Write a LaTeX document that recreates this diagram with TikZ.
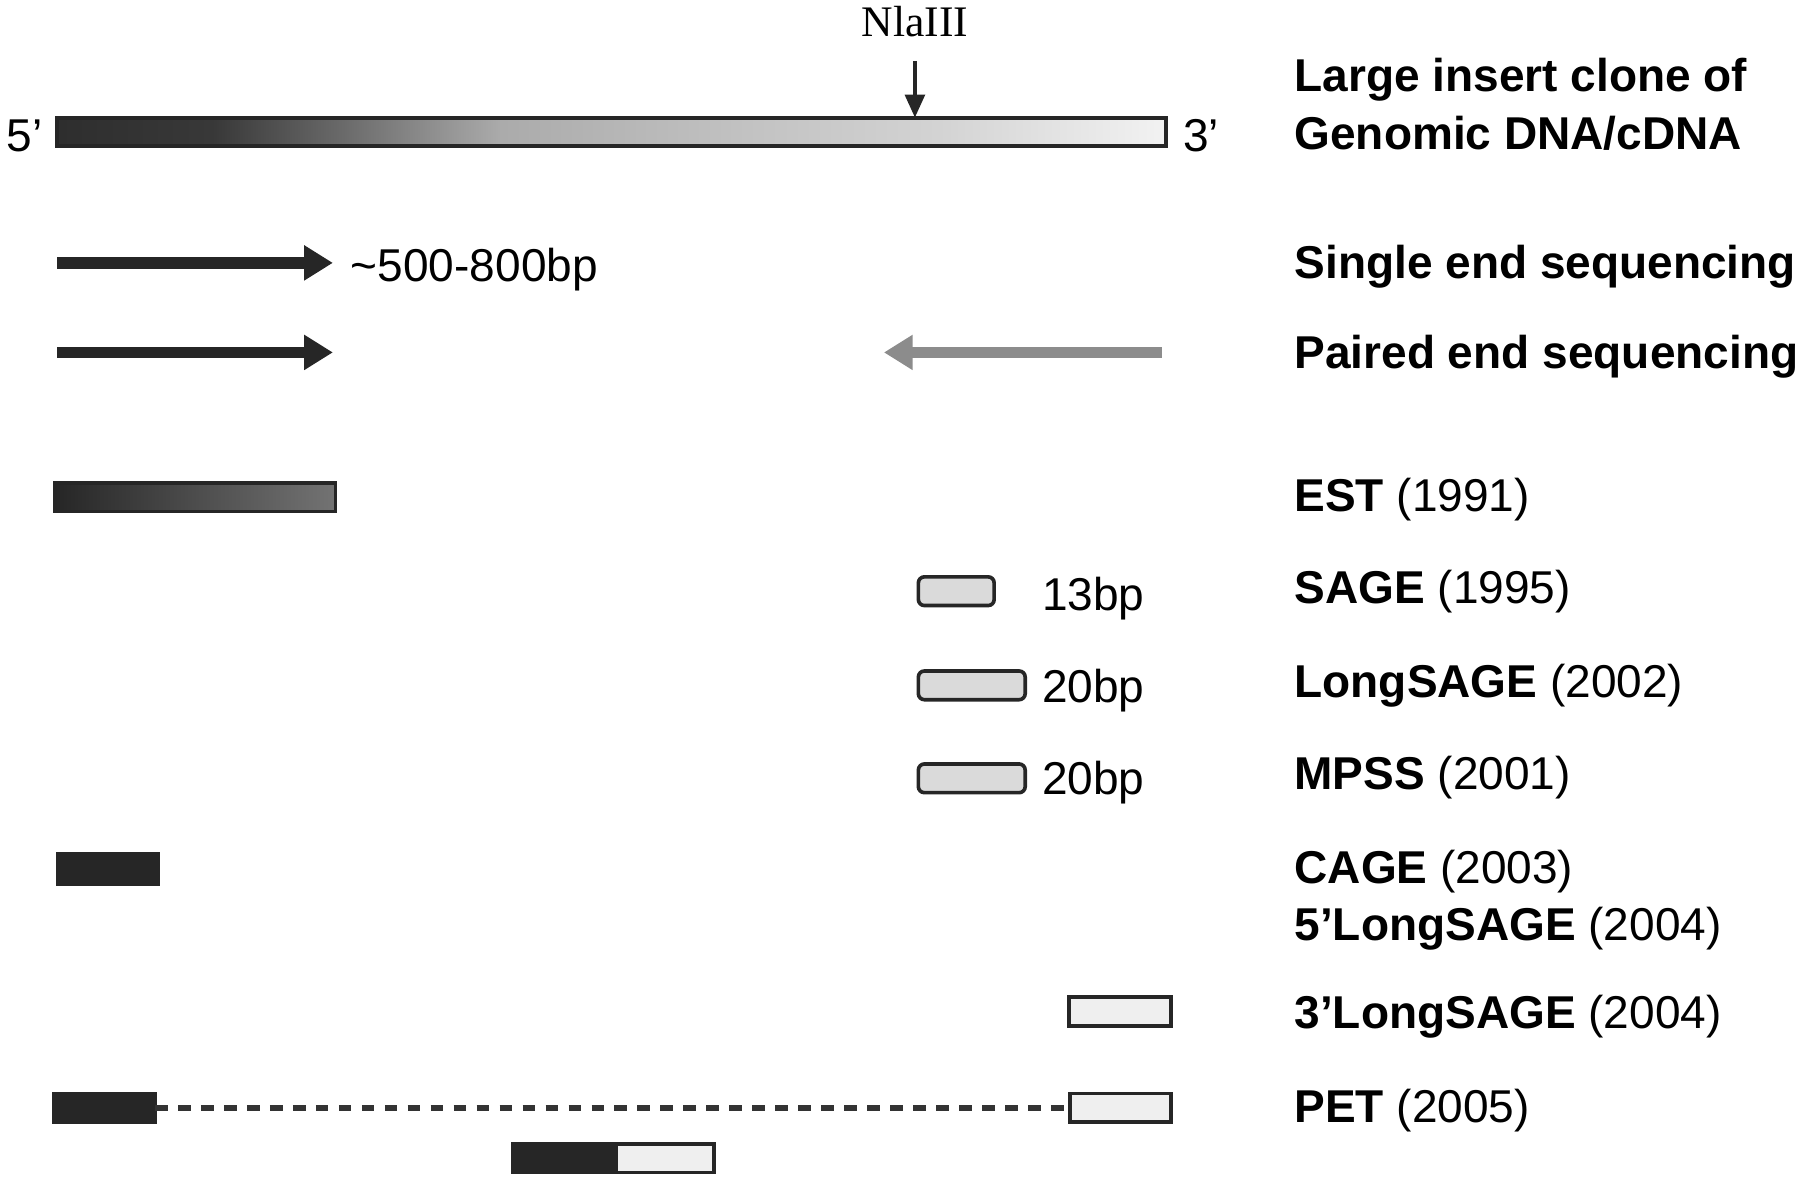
\documentclass[tikz,border=0pt]{standalone}
\usepackage{fontspec}
\setmainfont{Liberation Sans}
\newfontfamily\serifnla{Liberation Serif}
\usetikzlibrary{arrows.meta}

\definecolor{tagdark}{HTML}{262626}
\definecolor{taglight}{HTML}{EFEFEF}
\definecolor{sagefill}{HTML}{DADADA}

% shading of the clone, dark at 5' and pale at 3' (TikZ fits 25bp..75bp to the node)
\pgfdeclarehorizontalshading{clonegrad}{100bp}{color(0bp)=(black!82); color(25bp)=(black!82);
  color(32bp)=(black!78); color(38bp)=(black!58); color(45bp)=(black!33);
  color(56bp)=(black!24); color(65bp)=(black!17); color(75bp)=(black!5); color(100bp)=(black!5)}

\tikzset{
  lbl/.style={anchor=base west, inner sep=0pt, font=\fontsize{11.4}{13}\selectfont},
  seg/.style={draw=black!85, line width=0.9pt, inner sep=0pt, outer sep=0pt,
    minimum height=0.25cm, anchor=west},
  readarrow/.style={line width=0.1cm, -{Triangle[length=0.25cm,width=0.29cm]}},
}

\begin{document}
\begin{tikzpicture}[x=0.01cm, y=-0.01cm]

    % Frame of the figure
    \useasboundingbox (0,0) rectangle (1568,1033);

    % The large insert clone with its NlaIII site
    \node[seg, minimum width=9.65cm, shading=clonegrad, line width=1pt] (clone) at (50,115) {};
    \node[lbl, anchor=base, font=\serifnla\fontsize{10.8}{12}\selectfont] (nla) at (797,32) {NlaIII};
    \coordinate (cut) at (797,53);
    \draw[line width=1pt, tagdark, -{Triangle[length=0.2cm,width=0.17cm]}] (cut) -- (cut |- clone.north);
    \node[lbl] (five) at (5,132) {5’};
    \node[lbl] (three) at (1030,132) {3’};

    % Sequencing reads
    \coordinate (s1) at (50,229);
    \coordinate (s2) at (290,229);
    \draw[readarrow, tagdark] (s1) -- (s2);
    \node[lbl] (readlen) at (305,245) {\textasciitilde500-800bp};

    \coordinate (p1) at (50,307);
    \coordinate (p2) at (290,307);
    \coordinate (p3) at (1012,307);
    \coordinate (p4) at (770,307);
    \draw[readarrow, tagdark] (p1) -- (p2);
    \draw[readarrow, black!45] (p3) -- (p4);

    % Tags cut from the clone
    \node[seg, minimum width=2.44cm, left color=black!85, right color=black!55] (est) at (48,433) {};
    \node[seg, fill=sagefill, rounded corners=1.5pt, minimum width=0.66cm] (sage) at (800,515) {};
    \node[seg, fill=sagefill, rounded corners=1.5pt, minimum width=0.93cm] (lsage) at (800,597) {};
    \node[seg, fill=sagefill, rounded corners=1.5pt, minimum width=0.93cm] (mpss) at (800,678) {};
    \node[lbl] (bp13) at (907,532) {13bp};
    \node[lbl] (bp20a) at (907,612) {20bp};
    \node[lbl] (bp20b) at (907,692) {20bp};

    \node[seg, fill=tagdark, draw=tagdark, minimum width=0.88cm, minimum height=0.27cm] (cage) at (50,757) {};
    \node[seg, fill=taglight, minimum width=0.89cm] (tsage) at (931,881) {};

    % Paired end tags
    \node[seg, fill=tagdark, draw=tagdark, minimum width=0.88cm] (petl) at (47,965) {};
    \node[seg, fill=taglight, minimum width=0.88cm] (petr) at (932,965) {};
    \draw[black!80, line width=0.05cm, dash pattern=on 0.11cm off 0.09cm] (petl.east) -- (petr.west);

    \node[seg, fill=tagdark, minimum width=0.9cm] (ditl) at (447,1009) {};
    \node[seg, fill=taglight, minimum width=0.85cm] (ditr) at (ditl.east) {};

    % Method names
    \node[lbl, font=\fontsize{11.4}{13}\selectfont\bfseries] (lclone) at (1127,80) {Large insert clone of};
    \node[lbl, font=\fontsize{11.4}{13}\selectfont\bfseries] (lgen) at (1127,130) {Genomic DNA/cDNA};
    \node[lbl, font=\fontsize{11.4}{13}\selectfont\bfseries] (lsingle) at (1127,243) {Single end sequencing};
    \node[lbl, font=\fontsize{11.4}{13}\selectfont\bfseries] (lpaired) at (1127,321) {Paired end sequencing};
    \node[lbl] (lest) at (1127,446) {\textbf{EST} (1991)};
    \node[lbl] (lsg) at (1127,526) {\textbf{SAGE} (1995)};
    \node[lbl] (llsg) at (1127,608) {\textbf{LongSAGE} (2002)};
    \node[lbl] (lmpss) at (1127,688) {\textbf{MPSS} (2001)};
    \node[lbl] (lcage) at (1127,770) {\textbf{CAGE} (2003)};
    \node[lbl] (lfive) at (1127,819) {\textbf{5’LongSAGE} (2004)};
    \node[lbl] (lthree) at (1127,896) {\textbf{3’LongSAGE} (2004)};
    \node[lbl] (lpet) at (1127,978) {\textbf{PET} (2005)};

\end{tikzpicture}
\end{document}
